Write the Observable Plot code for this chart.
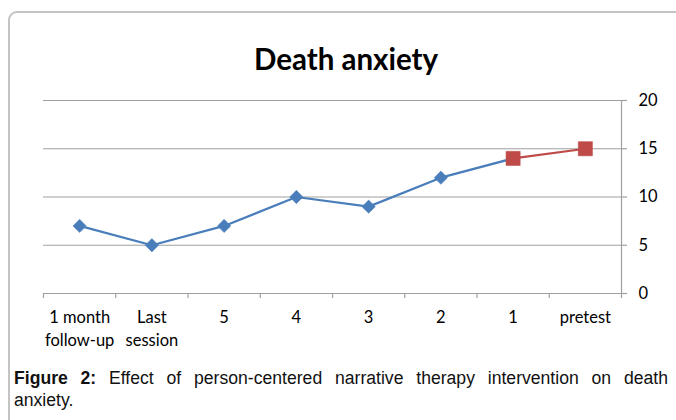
<!DOCTYPE html>
<html>
<head>
<meta charset="utf-8">
<script src="https://cdn.jsdelivr.net/npm/d3@7"></script>
<script src="https://cdn.jsdelivr.net/npm/@observablehq/plot@0.6"></script>
<style>
  html, body { margin: 0; padding: 0; background: #fff; }
  body { width: 676px; height: 420px; overflow: hidden; position: relative; }
  #frame { position: absolute; left: 8px; top: 11px; width: 720px; height: 480px;
           border: 2px solid #c4c4c4; border-top-left-radius: 9px; box-sizing: border-box; }
  #title { position: absolute; left: 0; width: 692px; top: 41px; text-align: center;
           font-family: Lato, sans-serif; font-weight: 700; font-size: 29.5px; color: #000; line-height: 36px; }
  #chart { position: absolute; left: 0; top: 80px; }
  #chart svg { overflow: visible; }
  #caption { position: absolute; left: 14px; top: 367px; width: 654px;
             font-family: "Liberation Sans", Arial, sans-serif; font-size: 17.6px; line-height: 22px; color: #111; }
  #caption .l1 { text-align: justify; text-align-last: justify; }
</style>
</head>
<body>
<div id="frame"></div>
<div id="title">Death anxiety</div>
<div id="chart"></div>
<div id="caption"><div class="l1"><b>Figure 2:</b> Effect of person-centered narrative therapy intervention on death</div><div>anxiety.</div></div>
<script>
const categories = ["1 month\nfollow-up", "Last\nsession", "5", "4", "3", "2", "1", "pretest"];
const values = [7, 5, 7, 10, 9, 12, 14, 15];
const blueIdx = [0, 1, 2, 3, 4, 5, 6];
const redIdx = [6, 7];
const yTicks = [0, 5, 10, 15, 20];
const gridValues = [5, 10, 15, 20];

const rows = categories.map((c, i) => ({i, label: c, value: values[i]}));
const blue = blueIdx.map(i => rows[i]);
const red = redIdx.map(i => rows[i]);
const n = categories.length;
const boundaries = d3.range(n + 1).map(k => k - 0.5);

const gray = "#a0a0a0";
const chart = Plot.plot({
  width: 676,
  height: 280,
  marginLeft: 43,
  marginRight: 55,
  marginTop: 20,
  marginBottom: 67,
  style: {fontFamily: "Lato, sans-serif", fontSize: "16px", color: "#000", background: "transparent"},
  x: {domain: [-0.5, n - 0.5], label: null},
  y: {domain: [0, 20], label: null},
  marks: [
    Plot.ruleY(gridValues, {x1: -0.5, x2: n - 0.5, stroke: gray, strokeWidth: 1.2}),
    Plot.ruleY([0], {x1: -0.5, x2: n - 0.5, stroke: gray, strokeWidth: 1.2}),
    Plot.ruleX([n - 0.5], {y1: 0, y2: 20, stroke: gray, strokeWidth: 1.2}),
    Plot.axisX({ticks: boundaries, tickFormat: () => "", tickSize: 5, label: null, stroke: gray, strokeWidth: 1.2, strokeOpacity: 1}),
    Plot.axisY({anchor: "right", ticks: yTicks, tickSize: 5, tickPadding: 12, label: null, stroke: gray, strokeWidth: 1.2, strokeOpacity: 1, fill: "#000", fontSize: 16.5, textAnchor: "start"}),
    Plot.text(rows, {x: "i", y: 0, text: "label", dy: 14, lineAnchor: "top", lineHeight: 1.35, fontSize: 16.5, fill: "#000"}),
    Plot.line(blue, {x: "i", y: "value", stroke: "#4A7EBB", strokeWidth: 2.25}),
    Plot.dot(blue, {x: "i", y: "value", symbol: "diamond2", r: 6, fill: "#4A7EBB", stroke: "#4A7EBB", strokeWidth: 0.5}),
    Plot.line(red, {x: "i", y: "value", stroke: "#BE4B48", strokeWidth: 2.25}),
    Plot.dot(red, {x: "i", y: "value", symbol: "square", r: 8, fill: "#BE4B48", stroke: "#BE4B48", strokeWidth: 0.5})
  ]
});
document.getElementById("chart").append(chart);
</script>
</body>
</html>
